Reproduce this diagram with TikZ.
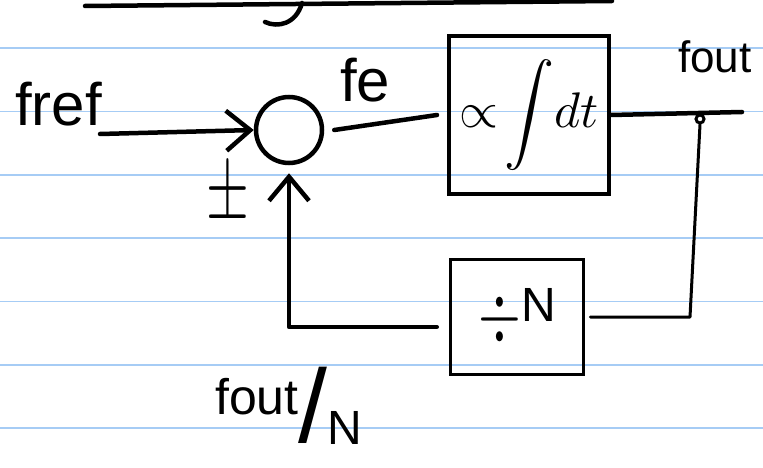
\documentclass[tikz,border=0pt]{standalone}
\usepackage{fontspec}
\setmainfont{Liberation Sans}
\usetikzlibrary{arrows.meta,calc}
\definecolor{ruled}{HTML}{A6CCF5}
\begin{document}
\begin{tikzpicture}[x=1pt,y=-1pt,
  wire/.style={line width=4.5pt,line cap=round,line join=round},
  thinwire/.style={line width=3pt,line cap=round,line join=round},
  barb/.style={-{Straight Barb[length=24pt,width=40pt]}},
  blockbox/.style={draw,line width=4pt,inner sep=0pt},
  lbl/.style={inner sep=0pt,anchor=base west},
  ruling/.style={ruled,line width=1.6pt}]
\useasboundingbox (0,0) rectangle (763,468);
\fill[white] (0,0) rectangle (763,468);
\foreach \yy in {48,111.5,175,238,301.5,365,428} \draw[ruling] (0,\yy) -- (763,\yy);
% scribble at top edge
\draw[wire] (85,6) -- (612,1);
\draw[wire] (302,3) .. controls (296,24) and (278,28) .. (265,22);
% blocks
\node[draw,circle,line width=4.5pt,minimum size=66pt,inner sep=0pt] (sum) at (289,130) {};
\node[blockbox,minimum width=160pt,minimum height=157pt] (int) at (529,115) {\scalebox{5}{$\propto\!\displaystyle\int\! dt$}};
\node[blockbox,line width=3.5pt,minimum width=133pt,minimum height=115pt] (div) at (517,317) {\scalebox{5.5}[8]{$\div$}\raisebox{18pt}{\fontsize{48}{48}\selectfont N}};
% coordinates
\coordinate (in) at (100,134);
\coordinate (outend) at (742,112);
\coordinate (fbk) at (289,327);
\coordinate (tap) at (690,317);
% connectors
\draw[wire,barb] (in) -- (sum.west);
\draw[wire] ([xshift=10pt]sum.east) -- ([xshift=-10pt]int.west);
\draw[wire] (int.east) -- (outend);
\node[circle,draw,line width=3pt,minimum size=8pt,inner sep=0pt,fill=white] (junc) at (700,119) {};
\draw[thinwire] (junc.south) -- (tap) -- ($(div.east |- tap)+(5,0)$);
\draw[wire,barb,shorten >=8pt] ($(div.west |- fbk)+(-12,0)$) -- (fbk) -- (sum.south);
% labels
\node[lbl,font=\fontsize{60}{60}\selectfont] (frefl) at (15,126) {fref};
\node[lbl,font=\fontsize{60}{60}\selectfont] (fel) at (340,102) {fe};
\node[lbl,font=\fontsize{44}{44}\selectfont] (foutl) at (678,73) {fout};
\node[inner sep=0pt] (pm) at (228,196) {\scalebox{5.5}[9]{$\pm$}};
\node[lbl] (foutN) at (215,414) {{\fontsize{50}{50}\selectfont fout}\raisebox{-28pt}{\fontsize{104}{104}\selectfont /}\raisebox{-30pt}{\fontsize{48}{48}\selectfont N}};
\end{tikzpicture}
\end{document}
